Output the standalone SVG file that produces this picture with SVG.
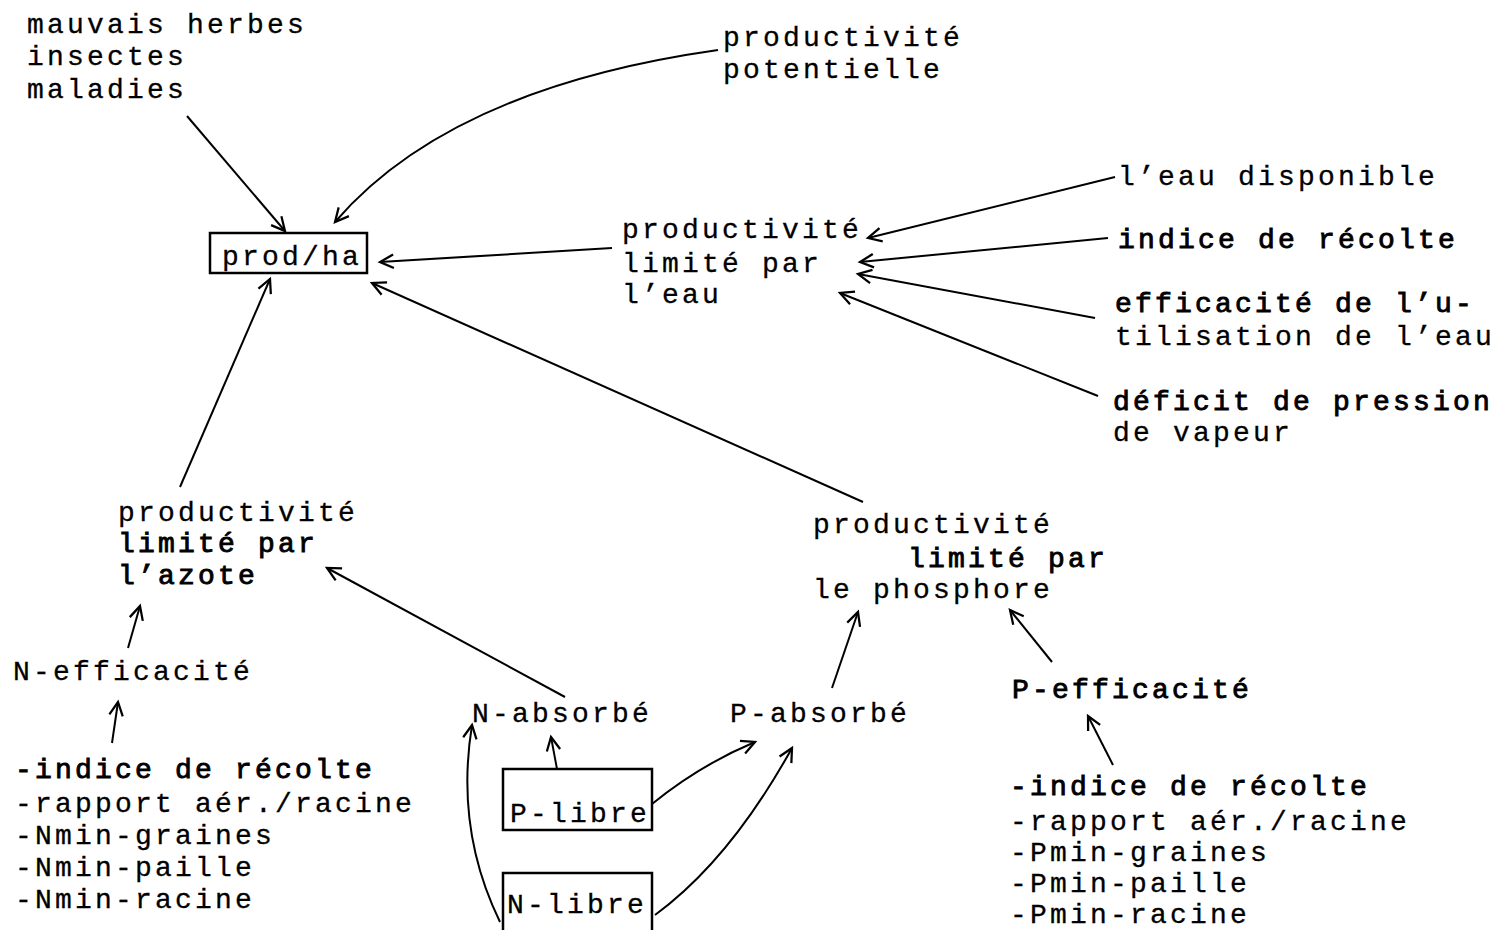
<svg xmlns="http://www.w3.org/2000/svg" width="1494" height="930" viewBox="0 0 1494 930">
  <style>
    text { font-family: "Liberation Mono", "Courier New", monospace; font-size: 28px; letter-spacing: 3.2px; fill: #000; stroke: #000; stroke-width: 0.3; }
    .b { stroke-width: 0.9; }
    .box { fill: none; stroke: #000; stroke-width: 2.5; }
    .link { fill: none; stroke: #000; stroke-width: 2; marker-end: url(#arrow); }
  </style>
  <defs>
    <marker id="arrow" markerUnits="userSpaceOnUse" markerWidth="18" markerHeight="18" refX="13" refY="7" viewBox="0 0 16 14" orient="auto">
      <path d="M1,1 L13,7 L1,13" fill="none" stroke="#000" stroke-width="2"/>
    </marker>
  </defs>
  <rect width="1494" height="930" fill="#fff"/>

  <!-- connectors -->
  <g id="connectors">
    <path class="link" d="M187,116 L285,231"/>
    <path class="link" d="M718,50 Q450,88 335,222"/>
    <path class="link" d="M612,248 L380,262"/>
    <path class="link" d="M863,502 L372,283"/>
    <path class="link" d="M180,487 L270,279"/>
    <path class="link" d="M1115,177 L868,238"/>
    <path class="link" d="M1108,238 L860,262"/>
    <path class="link" d="M1095,318 L858,274"/>
    <path class="link" d="M1098,396 L840,293"/>
    <path class="link" d="M128,648 L140,606"/>
    <path class="link" d="M112,743 L118,702"/>
    <path class="link" d="M565,697 L327,568"/>
    <path class="link" d="M832,688 L858,612"/>
    <path class="link" d="M1052,662 L1010,610"/>
    <path class="link" d="M1113,765 L1088,716"/>
    <path class="link" d="M557,769 L551,737"/>
    <path class="link" d="M652,804 Q700,765 755,742"/>
    <path class="link" d="M655,915 Q730,860 792,748"/>
    <path class="link" d="M500,922 Q455,830 472,725"/>
  </g>

  <!-- nodes -->
  <g id="n-ravageurs">
    <text x="27" y="33">mauvais herbes</text>
    <text x="27" y="65">insectes</text>
    <text x="27" y="98">maladies</text>
  </g>
  <g id="n-potentielle">
    <text x="723" y="46">productivité</text>
    <text x="723" y="78">potentielle</text>
  </g>
  <g id="n-prodha">
    <rect class="box" x="210" y="233" width="157" height="40"/>
    <text x="222" y="265">prod/ha</text>
  </g>
  <g id="n-prod-eau">
    <text x="622" y="238">productivité</text>
    <text x="622" y="272">limité par</text>
    <text x="622" y="303">l’eau</text>
  </g>
  <g id="n-eau-dispo">
    <text x="1118" y="185">l’eau disponible</text>
  </g>
  <g id="n-indice">
    <text class="b" x="1118" y="248">indice de récolte</text>
  </g>
  <g id="n-efficacite-eau">
    <text class="b" x="1115" y="312">efficacité de l’u-</text>
    <text x="1115" y="345">tilisation de l’eau</text>
  </g>
  <g id="n-deficit">
    <text class="b" x="1113" y="410">déficit de pression</text>
    <text x="1113" y="441">de vapeur</text>
  </g>
  <g id="n-prod-azote">
    <text x="118" y="521">productivité</text>
    <text class="b" x="118" y="552">limité par</text>
    <text class="b" x="118" y="584">l’azote</text>
  </g>
  <g id="n-prod-phosphore">
    <text x="813" y="533">productivité</text>
    <text class="b" x="908" y="567">limité par</text>
    <text x="813" y="598">le phosphore</text>
  </g>
  <g id="n-n-efficacite">
    <text x="13" y="680">N-efficacité</text>
  </g>
  <g id="n-n-facteurs">
    <text class="b" x="15" y="778">-indice de récolte</text>
    <text x="15" y="812">-rapport aér./racine</text>
    <text x="15" y="844">-Nmin-graines</text>
    <text x="15" y="876">-Nmin-paille</text>
    <text x="15" y="908">-Nmin-racine</text>
  </g>
  <g id="n-n-absorbe">
    <text x="472" y="722">N-absorbé</text>
  </g>
  <g id="n-p-absorbe">
    <text x="730" y="722">P-absorbé</text>
  </g>
  <g id="n-p-libre">
    <rect class="box" x="503" y="769" width="149" height="61"/>
    <text x="510" y="822">P-libre</text>
  </g>
  <g id="n-n-libre">
    <rect class="box" x="503" y="873" width="149" height="70"/>
    <text x="507" y="913">N-libre</text>
  </g>
  <g id="n-p-efficacite">
    <text class="b" x="1012" y="698">P-efficacité</text>
  </g>
  <g id="n-p-facteurs">
    <text class="b" x="1010" y="795">-indice de récolte</text>
    <text x="1010" y="830">-rapport aér./racine</text>
    <text x="1010" y="861">-Pmin-graines</text>
    <text x="1010" y="892">-Pmin-paille</text>
    <text x="1010" y="923">-Pmin-racine</text>
  </g>
</svg>
